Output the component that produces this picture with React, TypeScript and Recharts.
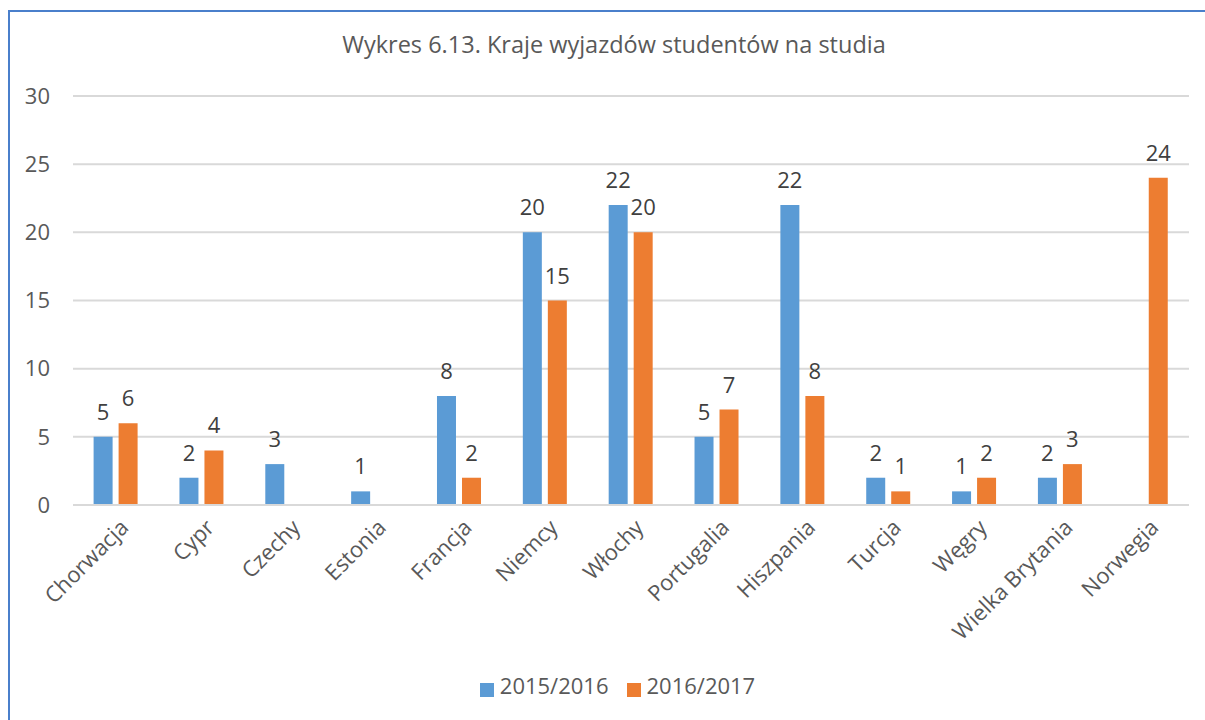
import React from 'react';
import { BarChart, Bar, XAxis, YAxis, CartesianGrid, Legend, LabelList } from 'recharts';

const categories = ['Chorwacja', 'Cypr', 'Czechy', 'Estonia', 'Francja', 'Niemcy', 'Włochy', 'Portugalia', 'Hiszpania', 'Turcja', 'Węgry', 'Wielka Brytania', 'Norwegia'];
const series2015 = [5, 2, 3, 1, 8, 20, 22, 5, 22, 2, 1, 2, null];
const series2017 = [6, 4, null, null, 2, 15, 20, 7, 8, 1, 2, 3, 24];
const yTicks = [0, 5, 10, 15, 20, 25, 30];

const data = categories.map((c, i) => ({ name: c, a: series2015[i], b: series2017[i] }));

const FONT = '"Open Sans", "Liberation Sans", sans-serif';
const TEXT = '#595959';

const XTick = (props: any) => {
  const { x, y, payload } = props;
  return (
    <g transform={`translate(${x + 4},${y + 6})`}>
      <text transform="rotate(-45)" textAnchor="end" dy={14} fill={TEXT} fontSize={22} fontFamily={FONT}>
        {payload.value}
      </text>
    </g>
  );
};

const fmt = (v: any) => (v === null || v === undefined ? '' : v);

export default function App() {
  return (
    <div style={{ position: 'absolute', left: 0, top: 0, width: 1205, height: 720, background: '#fff', fontFamily: FONT }}>
      <div style={{ position: 'absolute', left: 8, top: 10, width: 1197, height: 710, borderLeft: '2px solid #4A7FCB', borderTop: '2px solid #4A7FCB' }} />
      <div style={{ position: 'absolute', left: 0, top: 28, width: 1228, textAlign: 'center', fontSize: 23.5, color: TEXT, fontFamily: FONT }}>
        Wykres 6.13. Kraje wyjazdów studentów na studia
      </div>
      <BarChart width={1205} height={720} data={data} margin={{ top: 96, right: 16, left: 0, bottom: 10 }} barCategoryGap="24%" barGap={6}>
        <CartesianGrid vertical={false} stroke="#D9D9D9" strokeWidth={2} />
        <XAxis dataKey="name" interval={0} tick={<XTick />} tickLine={false} axisLine={{ stroke: '#D9D9D9', strokeWidth: 2 }} height={165} />
        <YAxis domain={[0, 30]} ticks={yTicks} width={73} tickLine={false} axisLine={false} tickSize={0} tickMargin={23} tick={{ fill: TEXT, fontSize: 22, fontFamily: FONT }} />
        <Legend verticalAlign="bottom" height={40} iconType="square" iconSize={14} wrapperStyle={{ left: 32 }}
          formatter={(v: any) => <span style={{ color: TEXT, fontSize: 22, fontFamily: FONT, marginLeft: 2, marginRight: 8 }}>{v}</span>} />
        <Bar dataKey="a" name="2015/2016" fill="#5B9BD5" isAnimationActive={false}>
          <LabelList dataKey="a" position="top" offset={17} formatter={fmt} fill="#404040" fontSize={22} fontFamily={FONT} />
        </Bar>
        <Bar dataKey="b" name="2016/2017" fill="#ED7D31" isAnimationActive={false}>
          <LabelList dataKey="b" position="top" offset={17} formatter={fmt} fill="#404040" fontSize={22} fontFamily={FONT} />
        </Bar>
      </BarChart>
    </div>
  );
}
